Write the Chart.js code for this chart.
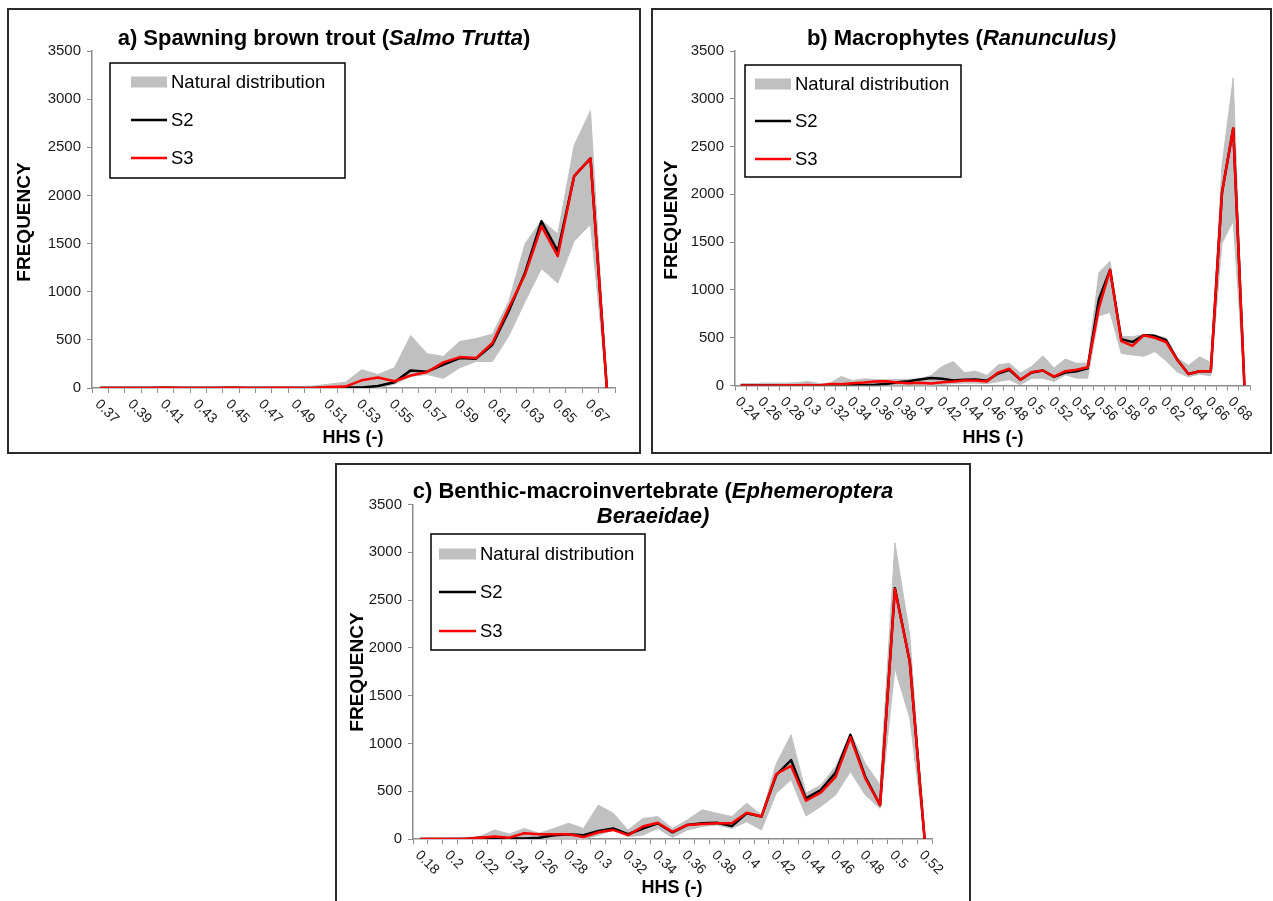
<!DOCTYPE html>
<html>
<head>
<meta charset="utf-8">
<title>HHS frequency distributions</title>
<script src="https://cdn.jsdelivr.net/npm/chart.js@4.4.1/dist/chart.umd.min.js"></script>
<style>
  html, body { margin: 0; padding: 0; background: #fff; }
  body { width: 1273px; height: 901px; overflow: hidden; position: relative; }
  .frame { position: absolute; box-sizing: border-box; border: 2px solid #2b2b2b; background: #fff; overflow: hidden; }
  .frame canvas { display: block; }
</style>
</head>
<body>
<div class="frame" id="frameA"><canvas id="chartA"></canvas></div>
<div class="frame" id="frameB"><canvas id="chartB"></canvas></div>
<div class="frame" id="frameC"><canvas id="chartC"></canvas></div>
<script>
// ---- a) Spawning brown trout: HHS classes and frequencies ----
const hhsA = ['0.37','0.38','0.39','0.40','0.41','0.42','0.43','0.44','0.45','0.46','0.47','0.48','0.49','0.50','0.51','0.52',
              '0.53','0.54','0.55','0.56','0.57','0.58','0.59','0.60','0.61','0.62','0.63','0.64','0.65','0.66','0.67','0.68'];
const tickA = ['0.37','0.39','0.41','0.43','0.45','0.47','0.49','0.51','0.53','0.55','0.57','0.59','0.61','0.63','0.65','0.67'];
const naturalLowA  = [0,0,0,0,0,0,0,0,0,0,0,0,0,0, 0,0,0,0,40,120,140,100,210,276,276,540,900,1240,1090,1525,1700,0];
const naturalHighA = [15,15,15,15,15,15,15,15,15,15,15,15,15,20, 40,60,190,140,210,545,357,328,483,514,560,898,1500,1740,1600,2520,2880,0];
const s2A = [0,0,0,0,3,0,0,0,3,0,0,0,0,0, 5,5,5,20,60,183,170,242,311,305,449,800,1200,1732,1420,2200,2384,0];
const s3A = [0,0,0,0,3,0,0,0,3,0,0,3,0,0, 10,15,80,110,70,130,165,266,321,311,467,830,1180,1680,1370,2200,2384,0];

// ---- b) Macrophytes ----
const hhsB = ['0.24','0.25','0.26','0.27','0.28','0.29','0.30','0.31','0.32','0.33','0.34','0.35','0.36','0.37','0.38','0.39',
              '0.40','0.41','0.42','0.43','0.44','0.45','0.46','0.47','0.48','0.49','0.50','0.51','0.52','0.53','0.54','0.55',
              '0.56','0.57','0.58','0.59','0.60','0.61','0.62','0.63','0.64','0.65','0.66','0.67','0.68','0.69'];
const tickB = ['0.24','0.26','0.28','0.3','0.32','0.34','0.36','0.38','0.4','0.42','0.44','0.46','0.48','0.5','0.52','0.54',
               '0.56','0.58','0.6','0.62','0.64','0.66','0.68'];
const naturalLowB  = [0,0,0,0,0,0,0,0,0,0, 0,0,0,0,0,0,0,0,10,20, 25,25,20,42,60,7,77,77,42,112,
                      77,77,730,765,335,320,305,355,260,140, 90,120,100,1490,1720,0];
const naturalHighB = [20,20,25,25,25,30,42,20,25,94, 52,70,63,59,63,66,70,105,199,251, 133,150,105,215,234,130,200,310,182,276,
                      234,234,1180,1300,515,510,535,525,500,290, 210,300,240,2300,3220,0];
const s2B = [0,0,0,0,2,2,3,0,2,3, 5,5,8,15,35,45,63,78,70,52, 60,63,50,125,165,60,136,157,90,135,
             150,180,900,1210,485,455,525,520,475,270, 120,150,150,2020,2690,0];
const s3B = [0,0,0,0,2,3,5,0,17,14, 24,31,42,45,31,24,28,21,35,42, 52,52,42,135,175,60,140,157,92,150,
             165,190,810,1210,465,415,525,500,455,270, 120,150,150,2020,2690,0];

// ---- c) Benthic macroinvertebrate ----
const hhsC = ['0.18','0.19','0.20','0.21','0.22','0.23','0.24','0.25','0.26','0.27','0.28','0.29','0.30','0.31','0.32','0.33',
              '0.34','0.35','0.36','0.37','0.38','0.39','0.40','0.41','0.42','0.43','0.44','0.45','0.46','0.47','0.48','0.49',
              '0.50','0.51','0.52'];
const tickC = ['0.18','0.2','0.22','0.24','0.26','0.28','0.3','0.32','0.34','0.36','0.38','0.4','0.42','0.44','0.46','0.48','0.5','0.52'];
const naturalLowC  = [0,0,0,0,0,0,0,0,0,0, 0,0,40,95,25,40,110,17,95,130, 147,110,180,95,480,620,240,340,460,705, 460,320,1785,1265,0];
const naturalHighC = [10,10,10,15,25,95,52,110,60,110, 165,110,355,270,95,215,235,110,200,305, 270,235,375,250,790,1090,480,565,757,1105, 790,565,3100,2135,0];
const s2C = [0,0,0,0,14,5,5,5,12,40, 50,40,85,110,50,110,165,70,147,165, 170,135,270,235,670,825,425,513,695,1090, 650,355,2625,1855,0];
const s3C = [0,0,0,0,12,25,14,60,50,50, 50,20,70,95,40,130,170,75,147,157, 165,165,275,235,680,765,400,485,650,1065, 635,355,2615,1855,0];

const yTicks = [0, 500, 1000, 1500, 2000, 2500, 3000, 3500];

// ---- layout and styling ----
const FONT = '"Liberation Sans", Arial, Helvetica, sans-serif';
const BORDER = 2;
const GREY_BAND = '#c0c0c0';
const AXIS_GREY = '#8c8c8c';

const panels = [
  {
    frameId: 'frameA', canvasId: 'chartA',
    frame: { left: 7, top: 8, width: 634, height: 446 },
    plot: { left: 92, right: 615, top: 51, bottom: 388 },
    cats: hhsA, tickText: tickA, tickEvery: 2,
    low: naturalLowA, high: naturalHighA, s2: s2A, s3: s3A,
    title: [[['a) Spawning brown trout (', false], ['Salmo Trutta', true], [')', false]]],
    titleBaselines: [45],
    yTitle: { x: 25, y: 222 }, xTitle: { x: 353, y: 438 },
    legend: { left: 110, top: 63, right: 345, bottom: 178, rows: [82, 120, 158], symX: 131, symW: 36, textX: 171 }
  },
  {
    frameId: 'frameB', canvasId: 'chartB',
    frame: { left: 651, top: 8, width: 621, height: 446 },
    plot: { left: 735, right: 1250, top: 51, bottom: 385.5 },
    cats: hhsB, tickText: tickB, tickEvery: 2,
    low: naturalLowB, high: naturalHighB, s2: s2B, s3: s3B,
    title: [[['b) Macrophytes (', false], ['Ranunculus)', true]]],
    titleBaselines: [45],
    yTitle: { x: 672, y: 220 }, xTitle: { x: 993, y: 438 },
    legend: { left: 745, top: 65, right: 961, bottom: 177, rows: [84, 121, 159], symX: 755, symW: 36, textX: 795 }
  },
  {
    frameId: 'frameC', canvasId: 'chartC',
    frame: { left: 335, top: 463, width: 636, height: 460 },
    plot: { left: 413, right: 932, top: 504.5, bottom: 839 },
    cats: hhsC, tickText: tickC, tickEvery: 2,
    low: naturalLowC, high: naturalHighC, s2: s2C, s3: s3C,
    title: [
      [['c) Benthic-macroinvertebrate (', false], ['Ephemeroptera', true]],
      [['Beraeidae)', true]]
    ],
    titleBaselines: [498, 523],
    yTitle: { x: 358, y: 672 }, xTitle: { x: 672, y: 888 },
    legend: { left: 431, top: 534, right: 645, bottom: 650, rows: [554, 592, 631], symX: 439, symW: 37, textX: 480 }
  }
];

function titleFont(italic, size) {
  return (italic ? 'italic ' : '') + 'bold ' + size + 'px ' + FONT;
}

function buildPanel(p) {
  const frame = document.getElementById(p.frameId);
  frame.style.left = p.frame.left + 'px';
  frame.style.top = p.frame.top + 'px';
  frame.style.width = p.frame.width + 'px';
  frame.style.height = p.frame.height + 'px';

  // canvas origin on the page (inside the frame border)
  const ox = p.frame.left + BORDER, oy = p.frame.top + BORDER;
  const cw = p.frame.width - 2 * BORDER, ch = p.frame.height - 2 * BORDER;
  const canvas = document.getElementById(p.canvasId);
  canvas.width = cw; canvas.height = ch;
  canvas.style.width = cw + 'px'; canvas.style.height = ch + 'px';

  const yAxisWidth = p.plot.left - ox;
  const xAxisHeight = (oy + ch) - p.plot.bottom;
  const padRight = (ox + cw) - p.plot.right;
  const padTop = p.plot.top - oy;

  const decor = {
    id: 'decor',
    afterDraw(chart) {
      const ctx = chart.ctx;
      const xs = chart.scales.x;
      const area = chart.chartArea;
      ctx.save();

      // category labels, slanted 45 degrees downward
      ctx.font = '14px ' + FONT;
      ctx.fillStyle = '#1a1a1a';
      ctx.textAlign = 'left';
      ctx.textBaseline = 'middle';
      p.tickText.forEach((t, k) => {
        const x = xs.getPixelForTick(k * p.tickEvery);
        ctx.save();
        ctx.translate(x - 3, area.bottom + 14);
        ctx.rotate(Math.PI / 4);
        ctx.fillText(t, 0, 0);
        ctx.restore();
      });

      // axis titles
      ctx.fillStyle = '#000';
      ctx.textAlign = 'center';
      ctx.textBaseline = 'middle';
      ctx.font = 'bold 18px ' + FONT;
      ctx.fillText('HHS (-)', p.xTitle.x - ox, p.xTitle.y - oy);
      ctx.font = 'bold 19px ' + FONT;
      ctx.save();
      ctx.translate(p.yTitle.x - ox, p.yTitle.y - oy);
      ctx.rotate(-Math.PI / 2);
      ctx.fillText('FREQUENCY', 0, 0);
      ctx.restore();

      // panel title with italic species names
      ctx.textAlign = 'left';
      ctx.textBaseline = 'alphabetic';
      p.title.forEach((line, li) => {
        let w = 0;
        line.forEach(([txt, it]) => { ctx.font = titleFont(it, 22); w += ctx.measureText(txt).width; });
        let x = cw / 2 - w / 2;
        const y = p.titleBaselines[li] - oy;
        line.forEach(([txt, it]) => {
          ctx.font = titleFont(it, 22);
          ctx.fillText(txt, x, y);
          x += ctx.measureText(txt).width;
        });
      });

      // legend box
      const L = p.legend;
      ctx.fillStyle = '#fff';
      ctx.fillRect(L.left - ox, L.top - oy, L.right - L.left, L.bottom - L.top);
      ctx.lineWidth = 1.5;
      ctx.strokeStyle = '#000';
      ctx.strokeRect(L.left - ox, L.top - oy, L.right - L.left, L.bottom - L.top);
      const ds = chart.data.datasets;
      const entries = [ds[1], ds[2], ds[3]];
      ctx.font = '18.5px ' + FONT;
      ctx.textBaseline = 'middle';
      entries.forEach((d, i) => {
        const y = L.rows[i] - oy;
        const sx = L.symX - ox;
        if (i === 0) {
          ctx.fillStyle = GREY_BAND;
          ctx.fillRect(sx, y - 5.5, L.symW, 11);
        } else {
          ctx.strokeStyle = d.borderColor;
          ctx.lineWidth = 2.5;
          ctx.beginPath();
          ctx.moveTo(sx, y);
          ctx.lineTo(sx + L.symW, y);
          ctx.stroke();
        }
        ctx.fillStyle = '#000';
        ctx.fillText(d.label, L.textX - ox, y + 1);
      });

      ctx.restore();
    }
  };

  return new Chart(canvas, {
    type: 'line',
    data: {
      labels: p.cats,
      datasets: [
        { label: 'natural-low', data: p.low, borderColor: GREY_BAND, borderWidth: 1, backgroundColor: GREY_BAND,
          pointRadius: 0, fill: false, tension: 0, order: 3 },
        { label: 'Natural distribution', data: p.high, borderColor: GREY_BAND, borderWidth: 1, backgroundColor: GREY_BAND,
          pointRadius: 0, fill: '-1', tension: 0, order: 2 },
        { label: 'S2', data: p.s2, borderColor: '#000000', borderWidth: 2.5, pointRadius: 0, fill: false,
          tension: 0, borderJoinStyle: 'round', order: 1 },
        { label: 'S3', data: p.s3, borderColor: '#ff0000', borderWidth: 2.5, pointRadius: 0, fill: false,
          tension: 0, borderJoinStyle: 'round', order: 0 }
      ]
    },
    options: {
      responsive: false,
      animation: false,
      devicePixelRatio: 1,
      layout: { padding: { left: 0, top: padTop, right: padRight, bottom: 0 } },
      plugins: {
        legend: { display: false },
        title: { display: false },
        tooltip: { enabled: false },
        filler: { drawTime: 'beforeDatasetsDraw' }
      },
      scales: {
        x: {
          type: 'category',
          offset: true,
          grid: { display: true, drawOnChartArea: false, drawTicks: true, tickLength: 5, color: AXIS_GREY, offset: true },
          border: { display: true, color: AXIS_GREY, width: 1.5 },
          ticks: { display: false, autoSkip: false },
          afterFit(scale) { scale.height = xAxisHeight; }
        },
        y: {
          min: 0, max: 3500,
          afterBuildTicks(scale) { scale.ticks = yTicks.map(v => ({ value: v })); },
          ticks: {
            font: { family: FONT, size: 15 },
            color: '#1a1a1a',
            padding: 6,
            callback: v => String(v)
          },
          grid: { display: true, drawOnChartArea: false, drawTicks: true, tickLength: 5, color: AXIS_GREY },
          border: { display: true, color: AXIS_GREY, width: 1.5 },
          afterFit(scale) { scale.width = yAxisWidth; }
        }
      }
    },
    plugins: [decor]
  });
}

panels.forEach(buildPanel);
</script>
</body>
</html>
